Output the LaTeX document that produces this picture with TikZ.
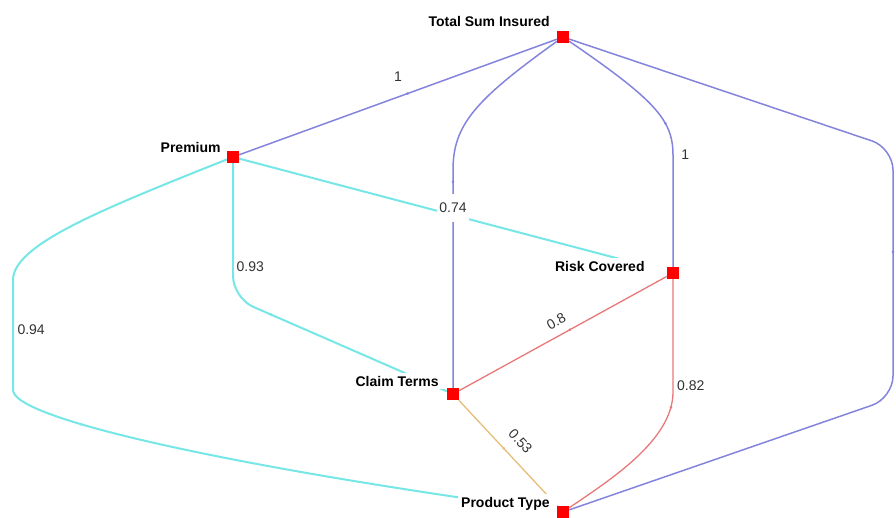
\documentclass[tikz,border=0pt]{standalone}
\usepackage{fontspec}
\setmainfont{Liberation Sans}
\usetikzlibrary{arrows.meta,decorations.markings,backgrounds}

\definecolor{blueE}{RGB}{132,132,222}
\definecolor{cyanE}{RGB}{118,230,230}
\definecolor{redE}{RGB}{232,120,120}
\definecolor{orangeE}{RGB}{228,190,120}

\begin{document}
\begin{tikzpicture}[x=1pt, y=-1pt,
  sq/.style = {rectangle, fill=red, minimum size=12pt, inner sep=0pt},
  lab/.style = {font=\fontsize{14}{16}\selectfont\bfseries, fill=white, inner sep=3pt},
  elab/.style = {font=\fontsize{14}{16}\selectfont, text=black!80, fill=white, inner sep=2.5pt},
  midarrow/.style = {postaction={decorate}, decoration={markings,
      mark=at position #1 with {\arrow{Latex[length=4pt,width=3pt]}}}},
  midarrow/.default = 0.48]

\useasboundingbox (0,0) rectangle (896,517);

\node[sq, label={[lab, yshift=16pt]left:Total Sum Insured\hspace*{4pt}}] (tsi) at (563,37) {};
\node[sq, label={[lab, yshift=10pt]left:Premium\hspace*{3pt}}] (prem) at (233,157) {};
\node[sq, label={[lab, yshift=7pt]left:Risk Covered\hspace*{19pt}}] (risk) at (673,273) {};
\node[sq, label={[lab, yshift=13pt]left:Claim Terms\hspace*{5pt}}] (claim) at (453,394) {};
\node[sq, label={[lab, yshift=8pt]left:Product Type\hspace*{4pt}}] (prod) at (563,512) {};

\begin{pgfonlayer}{background}
\path[blueE, line width=1.5pt] (tsi) edge[midarrow] node[elab, above=12pt] {1} (prem);
\draw[blueE, line width=1.5pt, midarrow] (tsi) .. controls (475,100) and (453,125) .. (453,170) -- (claim);
\draw[blueE, line width=1.5pt, midarrow] (tsi) .. controls (655,100) and (673,120) .. (673,155)
    -- node[elab, pos=0, anchor=west, xshift=5pt] {1} (risk);
\draw[blueE, line width=1.5pt, rounded corners=22pt, midarrow] (tsi) -- (893,148) -- (893,398) -- (prod);

\draw[cyanE, line width=2pt, rounded corners=22pt, midarrow] (prem) -- (233,298) -- (claim);
\node[elab, anchor=west] (n93) at (234,267) {0.93};
\path[cyanE, line width=2pt] (prem) edge[midarrow] node[elab, yshift=7pt, minimum height=28pt] {0.74} (risk);
\draw[cyanE, line width=2pt, midarrow] (prem) .. controls (100,210) and (13,245) .. (13,280)
    -- node[elab, pos=0.45, anchor=west, xshift=1pt] {0.94} (13,390)
    .. controls (13,420) and (250,470) .. (prod);

\path[redE, line width=1.3pt] (risk) edge[midarrow] node[elab, sloped, above=6pt] {0.8} (claim);
\draw[redE, line width=1.3pt, midarrow] (risk) -- node[elab, pos=0.94, anchor=west, xshift=1pt] {0.82} (673,392)
    .. controls (673,440) and (610,480) .. (prod);

\path[orangeE, line width=1.3pt] (claim) edge[midarrow] node[elab, sloped, above=9pt] {0.53} (prod);
\end{pgfonlayer}
\end{tikzpicture}
\end{document}
